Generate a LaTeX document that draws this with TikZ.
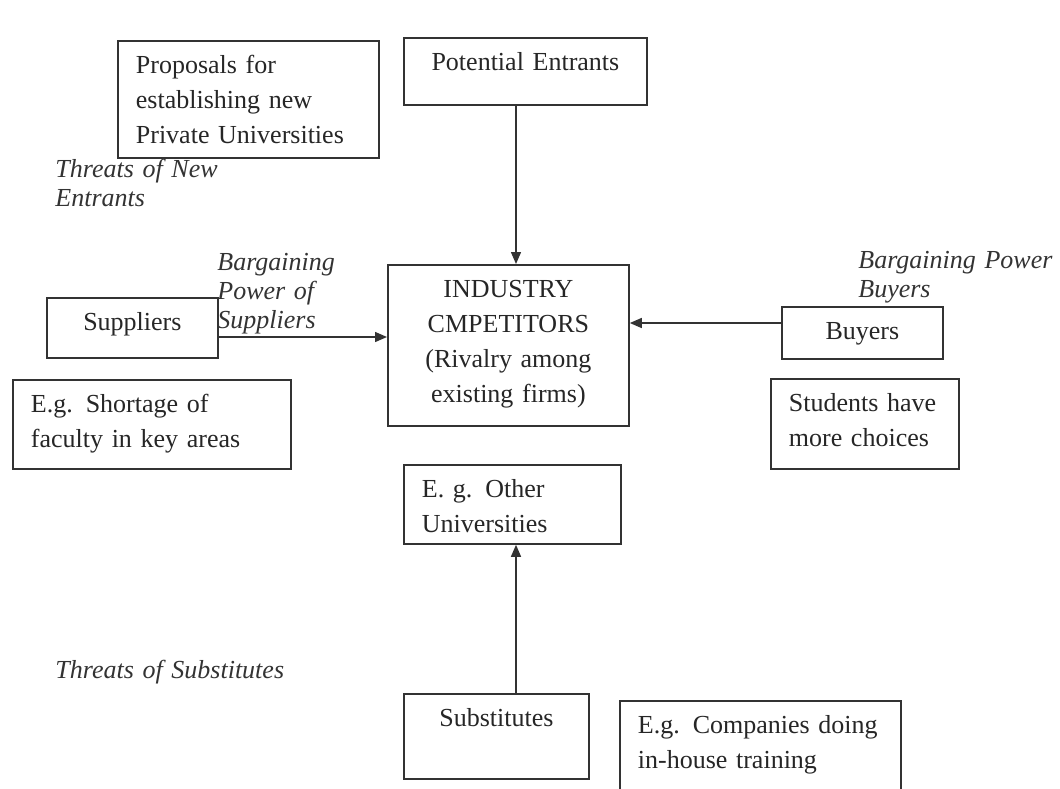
\documentclass[tikz,border=0pt]{standalone}
\usepackage{fontspec}
\setmainfont{Liberation Serif}
\usepackage{tikz}
\usetikzlibrary{arrows.meta}

\begin{document}
\begin{tikzpicture}[
            x=0.5pt, y=-0.5pt,
            forcebox/.style={draw=black!80, line width=0.9pt, anchor=north west, inner xsep=9pt, inner ysep=0pt,
                text height=16.5pt, text=black!85, font=\fontsize{13}{17.5}\selectfont},
            leftbox/.style={forcebox, align=left},
            midbox/.style={forcebox, align=center},
            forcelabel/.style={anchor=base west, inner sep=0pt, align=left, text width=150pt, text=black!80,
                font=\fontsize{13}{14.6}\selectfont\itshape},
            force/.style={draw=black!80, line width=0.7pt, -{Triangle[length=6pt, width=5pt]}}
        ]
            \useasboundingbox (0, 0) rectangle (1060, 788);

            % boxes
            \node[leftbox, text width=112.5pt, text depth=42pt] (proposals) at (117, 40) {Proposals for\\establishing new\\Private Universities};
            \node[midbox, text width=103.5pt, text depth=17pt] (entrants) at (403, 37) {Potential Entrants};
            \node[midbox, text width=102.5pt, text depth=64pt] (industry) at (387, 264) {INDUSTRY\\CMPETITORS\\(Rivalry among\\existing firms)};
            \node[midbox, text width=67.5pt, text depth=13.5pt] (suppliers) at (46, 297) {Suppliers};
            \node[midbox, text width=62.5pt, text depth=9.5pt] (buyers) at (781, 306) {Buyers};
            \node[leftbox, text width=121pt, text depth=28pt] (shortage) at (12, 379) {E.g. Shortage of\\faculty in key areas};
            \node[leftbox, text width=76pt, text depth=28.5pt] (choices) at (770, 378) {Students have\\more choices};
            \node[leftbox, text width=90.5pt, text depth=23pt] (otheruni) at (403, 464) {E. g. Other\\Universities};
            \node[midbox, text width=74.5pt, text depth=26pt] (substitutes) at (403, 693) {Substitutes};
            \node[leftbox, text width=122.5pt, text depth=33.5pt] (inhouse) at (619, 700) {E.g. Companies doing\\in-house training};

            % forces (italic labels)
            \node[forcelabel] (newentrants) at (55, 177) {Threats of New\\Entrants};
            \node[forcelabel] (supplierpower) at (217, 270) {Bargaining\\Power of\\Suppliers};
            \node[forcelabel] (buyerpower) at (858, 268) {Bargaining Power\\Buyers};
            \node[forcelabel] (substthreat) at (55, 678) {Threats of Substitutes};

            % arrows
            \coordinate (midline) at (516, 0);
            \coordinate (supline) at (0, 337);
            \coordinate (buyline) at (0, 323);
            \draw[force] (entrants.south -| midline) -- (industry.north -| midline);
            \draw[force] (suppliers.east |- supline) -- (industry.west |- supline);
            \draw[force] (buyers.west |- buyline) -- (industry.east |- buyline);
            \draw[force] (substitutes.north -| midline) -- (otheruni.south -| midline);

        \end{tikzpicture}
\end{document}
